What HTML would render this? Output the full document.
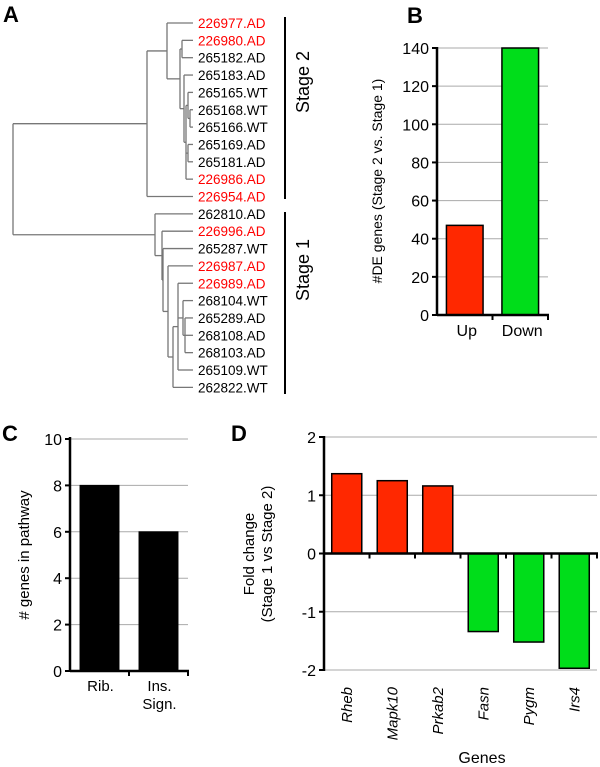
<!DOCTYPE html>
<html><head><meta charset="utf-8"><style>
html,body{margin:0;padding:0;background:#fff}
svg{display:block;font-family:"Liberation Sans",sans-serif}
</style></head><body>
<svg id="fig" width="600" height="767" viewBox="0 0 600 767" xmlns="http://www.w3.org/2000/svg">
<g id="panelA"></g>
<g id="panelB"></g>
<g id="panelC"></g>
<g id="panelD"></g>
</svg>
<script>
// ---------- data ----------
const leafLabels = ["226977.AD","226980.AD","265182.AD","265183.AD","265165.WT","265168.WT","265166.WT","265169.AD","265181.AD","226986.AD","226954.AD","262810.AD","226996.AD","265287.WT","226987.AD","226989.AD","268104.WT","265289.AD","268108.AD","268103.AD","265109.WT","262822.WT"];
const redLeaves = [0,1,9,10,12,14,15];
const bCategories = ["Up","Down"];
const bValues = [47,140];
const bTicks = [0,20,40,60,80,100,120,140];
const cCategories = ["Rib.","Ins.|Sign."];
const cValues = [8,6];
const cTicks = [0,2,4,6,8,10];
const dCategories = ["Rheb","Mapk10","Prkab2","Fasn","Pygm","Irs4"];
const dValues = [1.37,1.25,1.16,-1.34,-1.52,-1.97];
const dTicks = [-2,-1,0,1,2];

const NS="http://www.w3.org/2000/svg";
function mk(parent,tag,attrs,text){const e=document.createElementNS(NS,tag);for(const k in attrs)e.setAttribute(k,attrs[k]);if(text!==undefined)e.textContent=text;parent.appendChild(e);return e;}

// ---------- Panel A: dendrogram ----------
const A=document.getElementById('panelA');
let t=mk(A,'text',{x:3,y:22,'font-size':22,'font-weight':'bold'},'A');


const rowY=i=>23+17.35*i;
const L=i=>({leaf:i});
const tree={x:13,c:[
  {x:147,c:[{x:167,c:[L(0),{x:180,c:[{x:182,c:[L(1),L(2)]},{x:184,c:[L(3),{x:186,c:[{x:188,c:[L(4),{x:190,c:[L(5),L(6)]}]},{x:188,c:[L(7),L(8)]},L(9)]}]}]}]},L(10)]},
  {x:155,c:[L(11),{x:162,c:[L(12),{x:163,c:[L(13),{x:168,c:[L(14),{x:173,c:[{x:178,c:[L(15),{x:183,c:[L(16),{x:185,c:[L(17),L(18),L(19)]}]},L(20)]},L(21)]}]}]}]}]}
]};
const leafX=193;
function draw(n){
  if(n.leaf!==undefined){return {y:rowY(n.leaf),x:leafX};}
  const ys=n.c.map(ch=>draw(ch));
  ys.forEach(r=>{const ln=mk(A,'line',{x1:n.x,x2:r.x,y1:r.y,y2:r.y,stroke:'#777','stroke-width':1.3});
    });
  const y0=ys[0].y,y1=ys[ys.length-1].y;
  const v=mk(A,'line',{x1:n.x,x2:n.x,y1:y0,y2:y1,stroke:'#777','stroke-width':1.3});
  
  return {y:(y0+y1)/2,x:n.x};
}
draw(tree);
leafLabels.forEach((s,i)=>{
  const e=mk(A,'text',{x:198,y:rowY(i)+5,'font-size':13.5,fill:redLeaves.includes(i)?'#ff0000':'#000'},s);
  
  
});
[[17,199,'Stage 2',82],[212,394,'Stage 1',270]].forEach(([a,b,s,cy])=>{
  const ln=mk(A,'line',{x1:285,x2:285,y1:a,y2:b,stroke:'#000','stroke-width':2});
  
  const e=mk(A,'text',{x:0,y:0,'font-size':18,'text-anchor':'middle',transform:`translate(309,${cy}) rotate(-90)`},s);
  
});

// ---------- generic bar chart ----------
function barChart(g,o){
  const ys=v=>o.y0+(v-o.vmin)*(o.y1-o.y0)/(o.vmax-o.vmin);
  o.ticks.forEach(v=>{
    if(v!==0||o.gridZero){const gl=mk(g,'line',{x1:o.x0,x2:o.xEnd,y1:ys(v),y2:ys(v),stroke:'#aaa','stroke-width':1});
      }
    const tk=mk(g,'line',{x1:o.x0-5,x2:o.x0,y1:ys(v),y2:ys(v),stroke:'#000','stroke-width':2});
    
    const tl=mk(g,'text',{x:o.x0-8,y:ys(v)+6,'font-size':16,'text-anchor':'end'},String(v));
    
  });
  const n=o.values.length, cw=(o.xEnd-o.x0)/n;
  const base=ys(0);
  o.values.forEach((v,i)=>{
    const x=o.x0+cw*i+cw*o.pad, w=cw*(1-2*o.pad);
    const y=Math.min(ys(v),base), h=Math.abs(ys(v)-base);
    const r=mk(g,'rect',{x:x,y:y,width:w,height:h,fill:o.color(v,i),stroke:'#000','stroke-width':o.sw});
    
    
  });
  const ya=mk(g,'line',{x1:o.x0,x2:o.x0,y1:o.axTop,y2:o.axBot,stroke:'#000','stroke-width':2.5});
  
  const xa=mk(g,'line',{x1:o.x0,x2:o.xEnd+1,y1:base,y2:base,stroke:'#000','stroke-width':2.5});
  
  for(let i=1;i<=n;i++){const tk=mk(g,'line',{x1:o.x0+cw*i,x2:o.x0+cw*i,y1:base,y2:base+5,stroke:'#000','stroke-width':2});
    }
  return {cw,ys};
}

// ---------- Panel B ----------
const B=document.getElementById('panelB');
t=mk(B,'text',{x:407,y:23,'font-size':22,'font-weight':'bold'},'B');

let rb=barChart(B,{x0:437,xEnd:548,y0:315,y1:48,vmin:0,vmax:140,ticks:bTicks,values:bValues,cats:bCategories,pad:0.17,sw:1.5,axTop:47,axBot:316,
  color:(v,i)=>i===0?'#ff2800':'#00dd1a'});
bCategories.forEach((c,i)=>{const e=mk(B,'text',{x:437+rb.cw*(i+0.5)+2,y:336,'font-size':16,'text-anchor':'middle'},c);
  });
t=mk(B,'text',{x:0,y:0,'font-size':14,'text-anchor':'middle',transform:'translate(382,181) rotate(-90)'},'#DE genes (Stage 2 vs. Stage 1)');


// ---------- Panel C ----------
const C=document.getElementById('panelC');
t=mk(C,'text',{x:2,y:441,'font-size':22,'font-weight':'bold'},'C');

let rc=barChart(C,{x0:70,xEnd:188,y0:671,y1:439,vmin:0,vmax:10,ticks:cTicks,values:cValues,cats:cCategories,pad:0.17,sw:1,axTop:437,axBot:672,
  color:()=>'#000'});
cCategories.forEach((c,i)=>{c.split('|').forEach((s,j)=>{const e=mk(C,'text',{x:70+rc.cw*(i+0.5)+1,y:691+j*18,'font-size':15,'text-anchor':'middle'},s);
  });});
t=mk(C,'text',{x:0,y:0,'font-size':15,'text-anchor':'middle',transform:'translate(29,555) rotate(-90)'},'# genes in pathway');


// ---------- Panel D ----------
const D=document.getElementById('panelD');
t=mk(D,'text',{x:231,y:441,'font-size':22,'font-weight':'bold'},'D');

let rd=barChart(D,{x0:324,xEnd:597,y0:670,y1:437,vmin:-2,vmax:2,ticks:dTicks,values:dValues,cats:dCategories,pad:0.17,sw:1.5,axTop:436,axBot:671,gridZero:false,
  color:v=>v>=0?'#ff2800':'#00dd1a'});
dCategories.forEach((c,i)=>{const cx=324+rd.cw*(i+0.5);
  const e=mk(D,'text',{x:0,y:0,'font-size':15,'font-style':'italic','text-anchor':'end',transform:`translate(${cx+5},687) rotate(-90)`},c);
  });
t=mk(D,'text',{x:0,y:0,'font-size':15,'text-anchor':'middle',transform:'translate(254,554) rotate(-90)'},'Fold change');

t=mk(D,'text',{x:0,y:0,'font-size':15,'text-anchor':'middle',transform:'translate(272,554) rotate(-90)'},'(Stage 1 vs Stage 2)');

t=mk(D,'text',{x:482,y:763,'font-size':16,'text-anchor':'middle'},'Genes');

</script>
</body></html>
